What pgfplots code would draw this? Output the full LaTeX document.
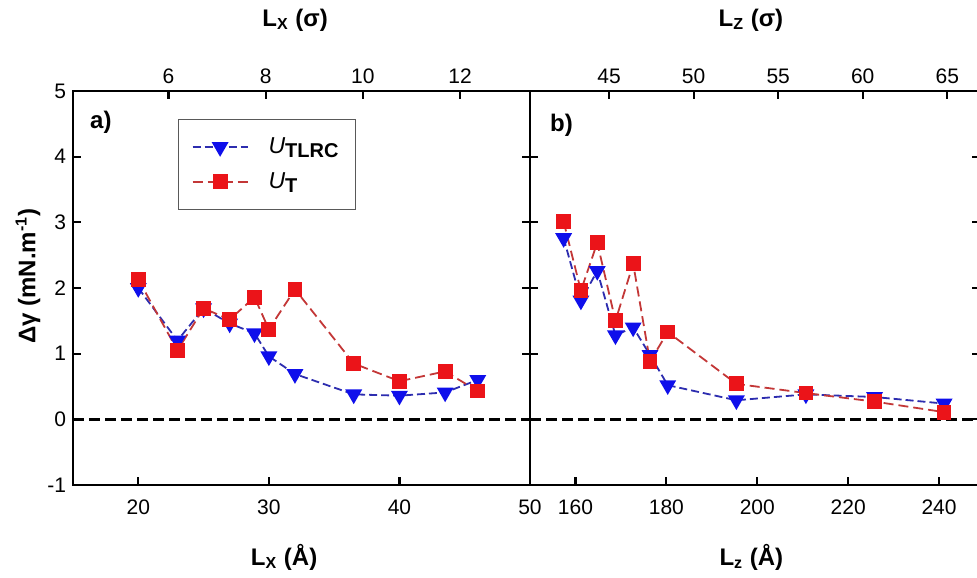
\documentclass[border=0pt]{standalone}
\usepackage{fontspec}
\setmainfont{Liberation Sans}
\usepackage{pgfplots}
\pgfplotsset{compat=1.18}

\definecolor{mblue}{RGB}{15,15,235}
\definecolor{mred}{RGB}{235,20,25}
\definecolor{lblue}{RGB}{45,45,175}
\definecolor{lred}{RGB}{195,55,55}

\pgfplotsset{
  base/.style={
    scale only axis, height=197pt, ymin=-1, ymax=5,
    axis line style={line width=1.25pt},
    tick style={line width=1.1pt, black},
    major tick length=4pt, tick align=inside,
    ticklabel style={font=\fontsize{10.5}{12}\selectfont},
    /pgf/number format/assume math mode=true,
    label style={font=\bfseries\fontsize{12}{14}\selectfont},
  },
  tl/.style={color=lblue, dash pattern=on 4pt off 2pt, line width=0.9pt,
    mark=triangle*, mark size=4pt, mark options={solid, rotate=180, fill=mblue, draw=mblue}},
  tt/.style={color=lred, dash pattern=on 5pt off 2.5pt, line width=0.9pt,
    mark=square*, mark size=3.25pt, mark options={solid, fill=mred, draw=mred}},
  zero/.style={black, line width=1.5pt, dash pattern=on 5.5pt off 2.5pt, forget plot},
}

\pgfplotstableread{
x  tlrc  t
20.0 2.00 2.13
23.0 1.20 1.05
25.0 1.69 1.69
27.0 1.46 1.52
28.9 1.31 1.86
30.0 0.96 1.37
32.0 0.69 1.98
36.5 0.38 0.85
40.0 0.36 0.58
43.5 0.41 0.73
46.0 0.60 0.43
}\lxdata

\pgfplotstableread{
x  tlrc  t
157.4 2.76 3.01
161.2 1.81 1.96
164.8 2.26 2.69
168.8 1.28 1.50
172.7 1.40 2.37
176.4 0.98 0.88
180.3 0.52 1.33
195.4 0.29 0.54
210.7 0.38 0.40
225.8 0.34 0.27
241.1 0.24 0.11
}\lzdata

\begin{document}
\begin{tikzpicture}
% ---------- left panel ----------
\begin{axis}[base, name=L, width=228.5pt,
  xmin=15, xmax=50, xtick={20,30,40,50}, xtick pos=lower,
  ytick={-1,0,1,2,3,4,5}, yticklabels={-1,0,1,2,3,4,5},
  xticklabel style={yshift=-4pt},
  xlabel={L\textsubscript{X} (Å)},
  xlabel style={at={(axis description cs:0.462,0)}, anchor=center, yshift=-36pt},
  ylabel={Δγ (mN.m\textsuperscript{-1})},
  ylabel style={at={(axis description cs:-0.0985,0.53)}, anchor=center},
  legend style={at={(axis description cs:0.23,0.929)}, anchor=north west,
    draw=black!65, line width=0.6pt, fill=white,
    font=\fontsize{11.5}{13}\selectfont, inner xsep=6.5pt, inner ysep=7pt,
    row sep=4pt, nodes={inner sep=2pt}},
  legend cell align=left,
  legend image code/.code={\draw[mark repeat=2, mark phase=2, #1] plot coordinates {(0pt,0pt) (13.75pt,0pt) (27.5pt,0pt)};},
]
\addplot[zero] coordinates {(15,0) (50,0)};
\addplot[tl] table[x=x, y=tlrc] {\lxdata};
\addlegendentry{\hspace*{8pt}\textit{U}\raisebox{-0.35ex}{\fontsize{10}{11}\selectfont\textbf{TLRC}}}
\addplot[tt] table[x=x, y=t] {\lxdata};
\addlegendentry{\hspace*{8pt}\textit{U}\raisebox{-0.35ex}{\fontsize{10}{11}\selectfont\textbf{T}}}
\node[font=\bfseries\fontsize{12}{14}\selectfont] at (axis description cs:0.061,0.921) {a)};
\end{axis}
\begin{axis}[base, at={(L.south west)}, anchor=south west, width=228.5pt,
  xmin=4.0323, xmax=13.4409, xtick={6,8,10,12},
  axis x line*=top, axis y line=none,
  xlabel={L\textsubscript{X} (σ)},
  xlabel style={at={(axis description cs:0.486,1)}, anchor=center, yshift=35.5pt},
]
\addplot[draw=none, forget plot] coordinates {(6,0)};
\end{axis}
% ---------- right panel ----------
\begin{axis}[base, name=R, at={(L.south east)}, anchor=south west, width=225pt,
  xmin=150, xmax=249, xtick={160,180,...,240}, xtick pos=lower,
  ytick={-1,0,1,2,3,4,5}, yticklabels={},
  xticklabel style={yshift=-4pt},
  xlabel={L\textsubscript{z} (Å)},
  xlabel style={at={(axis description cs:0.492,0)}, anchor=center, yshift=-36pt},
]
\addplot[zero] coordinates {(150,0) (249,0)};
\addplot[tl] table[x=x, y=tlrc] {\lzdata};
\addplot[tt] table[x=x, y=t] {\lzdata};
\node[font=\bfseries\fontsize{12}{14}\selectfont] at (axis description cs:0.070,0.914) {b)};
\end{axis}
\begin{axis}[base, at={(R.south west)}, anchor=south west, width=225pt,
  xmin=40.3226, xmax=66.9355, xtick={45,50,...,65},
  axis x line*=top, axis y line=none,
  xlabel={L\textsubscript{Z} (σ)},
  xlabel style={at={(axis description cs:0.491,1)}, anchor=center, yshift=35.5pt},
]
\addplot[draw=none, forget plot] coordinates {(50,0)};
\end{axis}
\pgfresetboundingbox
\path ([shift={(-36.5pt,-46pt)}]L.south west) rectangle ([shift={(452pt,242.5pt)}]L.south west);
\end{tikzpicture}
\end{document}
